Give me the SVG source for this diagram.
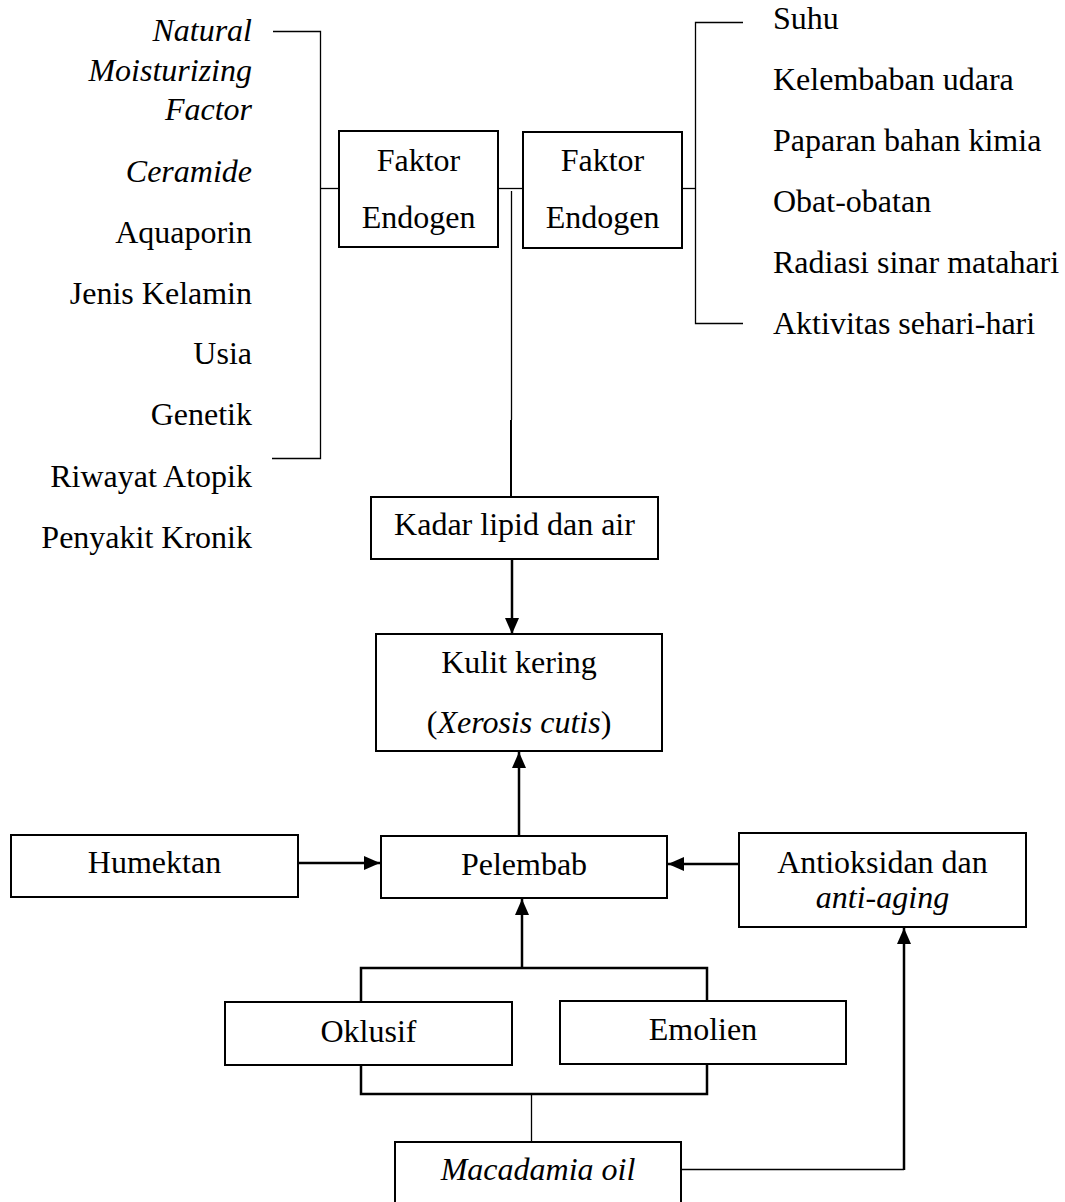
<svg xmlns="http://www.w3.org/2000/svg" width="1065" height="1202" viewBox="0 0 1065 1202">
<defs>
<marker id="ah" markerUnits="userSpaceOnUse" markerWidth="17" markerHeight="14" refX="16" refY="7" orient="auto">
<path d="M0,0 L16,7 L0,14 Z" fill="#000"/>
</marker>
</defs>
<style>
text{font-family:"Liberation Serif","Times New Roman",serif;font-size:32px;fill:#000}
.i{font-style:italic}
.box{fill:#fff;stroke:#000;stroke-width:2}
.thin{fill:none;stroke:#000;stroke-width:1.3}
.thick{fill:none;stroke:#000;stroke-width:2}
.br{fill:none;stroke:#000;stroke-width:2.5}
.arr{fill:none;stroke:#000;stroke-width:2.5;marker-end:url(#ah)}
</style>
<rect width="1065" height="1202" fill="#fff"/>

<g id="connectors">
<path class="thin" d="M273,31.5 H320.5 V458.5 H272"/>
<path class="thin" d="M320,188.5 H339"/>
<path class="thin" d="M498,188.5 H523"/>
<path class="thin" d="M682,188.5 H695"/>
<path class="thin" d="M743,22.5 H695.5 V323.5 H743"/>
<path class="thin" d="M511.5,191 V420"/>
<path class="thick" d="M511,420 V497"/>
<path class="arr" d="M512,559 V634"/>
<path class="arr" d="M519,836 V752"/>
<path class="arr" d="M522,968 V899"/>
<path class="arr" d="M298,863 H380"/>
<path class="arr" d="M739,864 H668"/>
<path class="br" d="M361,1002 V968 H707 V1001"/>
<path class="br" d="M361,1065 V1094 H707 V1064"/>
<path class="thin" d="M531.5,1094 V1142"/>
<path class="thin" d="M681,1169.5 H904"/>
<path class="arr" d="M904,1170 V928"/>
</g>

<g id="endogen-factors">
<text class="i" x="252" y="41" text-anchor="end">Natural</text>
<text class="i" x="252" y="81" text-anchor="end">Moisturizing</text>
<text class="i" x="252" y="120" text-anchor="end">Factor</text>
<text class="i" x="252" y="182" text-anchor="end">Ceramide</text>
<text x="252" y="243" text-anchor="end">Aquaporin</text>
<text x="252" y="304" text-anchor="end">Jenis Kelamin</text>
<text x="252" y="364" text-anchor="end">Usia</text>
<text x="252" y="425" text-anchor="end">Genetik</text>
<text x="252" y="487" text-anchor="end">Riwayat Atopik</text>
<text x="252" y="548" text-anchor="end">Penyakit Kronik</text>
</g>

<g id="faktor-endogen-1">
<rect class="box" x="339" y="131" width="159" height="116"/>
<text x="418.5" y="171" text-anchor="middle">Faktor</text>
<text x="418.5" y="228" text-anchor="middle">Endogen</text>
</g>

<g id="faktor-endogen-2">
<rect class="box" x="523" y="132" width="159" height="116"/>
<text x="602.5" y="171" text-anchor="middle">Faktor</text>
<text x="602.5" y="228" text-anchor="middle">Endogen</text>
</g>

<g id="exogen-factors">
<text x="773" y="29">Suhu</text>
<text x="773" y="90">Kelembaban udara</text>
<text x="773" y="151">Paparan bahan kimia</text>
<text x="773" y="212">Obat-obatan</text>
<text x="773" y="273">Radiasi sinar matahari</text>
<text x="773" y="334">Aktivitas sehari-hari</text>
</g>

<g id="kadar">
<rect class="box" x="371" y="497" width="287" height="62"/>
<text x="514.5" y="535" text-anchor="middle">Kadar lipid dan air</text>
</g>

<g id="kulit-kering">
<rect class="box" x="376" y="634" width="286" height="117"/>
<text x="519" y="673" text-anchor="middle">Kulit kering</text>
<text x="519" y="733" text-anchor="middle">(<tspan class="i">Xerosis cutis</tspan>)</text>
</g>

<g id="humektan">
<rect class="box" x="11" y="835" width="287" height="62"/>
<text x="154.5" y="873" text-anchor="middle">Humektan</text>
</g>

<g id="pelembab">
<rect class="box" x="381" y="836" width="286" height="62"/>
<text x="524" y="875" text-anchor="middle">Pelembab</text>
</g>

<g id="antioksidan">
<rect class="box" x="739" y="833" width="287" height="94"/>
<text x="882.5" y="873" text-anchor="middle">Antioksidan dan</text>
<text class="i" x="882.5" y="908" text-anchor="middle">anti-aging</text>
</g>

<g id="oklusif">
<rect class="box" x="225" y="1002" width="287" height="63"/>
<text x="368.5" y="1042" text-anchor="middle">Oklusif</text>
</g>

<g id="emolien">
<rect class="box" x="560" y="1001" width="286" height="63"/>
<text x="703" y="1040" text-anchor="middle">Emolien</text>
</g>

<g id="macadamia">
<rect class="box" x="395" y="1142" width="286" height="80"/>
<text class="i" x="538" y="1180" text-anchor="middle">Macadamia oil</text>
</g>
</svg>
